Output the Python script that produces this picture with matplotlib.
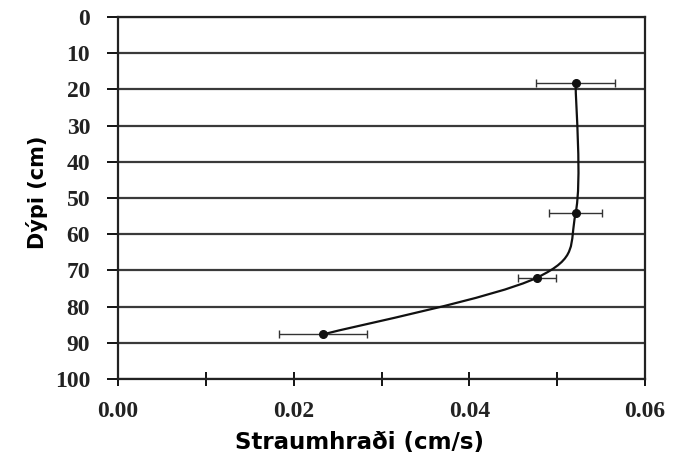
import matplotlib
matplotlib.use('Agg')
import matplotlib.pyplot as plt
from matplotlib.path import Path
from matplotlib.patches import PathPatch
from matplotlib.ticker import MultipleLocator

# values
speed = [0.0521, 0.0521, 0.0477, 0.0233]      # cm/s
depth = [18.3, 54.2, 72.0, 87.7]              # cm
speed_err = [0.0045, 0.003, 0.0022, 0.005]
xtick_labels = ['0.00', '0.02', '0.04', '0.06']
xtick_values = [0.0, 0.02, 0.04, 0.06]


def smooth_path(xs, ys):
    # Excel-style smoothed line: cubic Bezier, Catmull-Rom control points
    n = len(xs)
    verts = [(xs[0], ys[0])]
    codes = [Path.MOVETO]
    for i in range(n - 1):
        p0 = (xs[max(i - 1, 0)], ys[max(i - 1, 0)])
        p1 = (xs[i], ys[i])
        p2 = (xs[i + 1], ys[i + 1])
        p3 = (xs[min(i + 2, n - 1)], ys[min(i + 2, n - 1)])
        c1 = (p1[0] + (p2[0] - p0[0]) / 6, p1[1] + (p2[1] - p0[1]) / 6)
        c2 = (p2[0] - (p3[0] - p1[0]) / 6, p2[1] - (p3[1] - p1[1]) / 6)
        verts += [c1, c2, p2]
        codes += [Path.CURVE4] * 3
    return Path(verts, codes)


fig = plt.figure(figsize=(6.8, 4.62), dpi=100)
ax = fig.add_axes([118 / 680, 1 - 379 / 462, 527 / 680, 362 / 462])

ax.set_xlim(0, 0.06)
ax.set_ylim(100, 0)

ax.yaxis.set_major_locator(MultipleLocator(10))
ax.grid(True, axis='y', color='#3a3a3a', linewidth=1.6)
ax.set_axisbelow(True)

ax.xaxis.set_major_locator(MultipleLocator(0.01))
ax.tick_params(axis='x', direction='inout', length=10, width=1.3, labelbottom=False)
ax.tick_params(axis='y', direction='out', length=8, width=1.3)
for s in ax.spines.values():
    s.set_linewidth(1.6)
    s.set_color('#222222')

# x tick labels only every other tick
for v, lab in zip(xtick_values, xtick_labels):
    ax.text(v, -0.062, lab, transform=ax.get_xaxis_transform(), ha='center', va='top',
            fontsize=17, fontweight='bold', family='Liberation Serif', color='#222222')
ax.set_yticks(range(0, 101, 10))
ax.set_yticklabels([str(v) for v in range(0, 101, 10)], fontsize=17, fontweight='bold',
                   family='Liberation Serif', color='#222222')
ax.tick_params(axis='y', pad=12)

patch = PathPatch(smooth_path(speed, depth), facecolor='none', edgecolor='#111111',
                  linewidth=1.6, transform=ax.transData, zorder=3)
ax.add_patch(patch)

ax.errorbar(speed, depth, xerr=speed_err, fmt='o', color='#111111', markersize=5.5,
            ecolor='#333333', elinewidth=1.0, capsize=3, capthick=1.0, zorder=4)

ax.set_xlabel('Straumhraði (cm/s)', fontsize=16.5, fontweight='bold', family='DejaVu Sans')
ax.xaxis.set_label_coords(0.459, -0.145)
ax.set_ylabel('Dýpi (cm)', fontsize=15, fontweight='bold', family='DejaVu Sans')
ax.yaxis.set_label_coords(-0.133, 0.517)

fig.savefig('out.png', dpi=100)
